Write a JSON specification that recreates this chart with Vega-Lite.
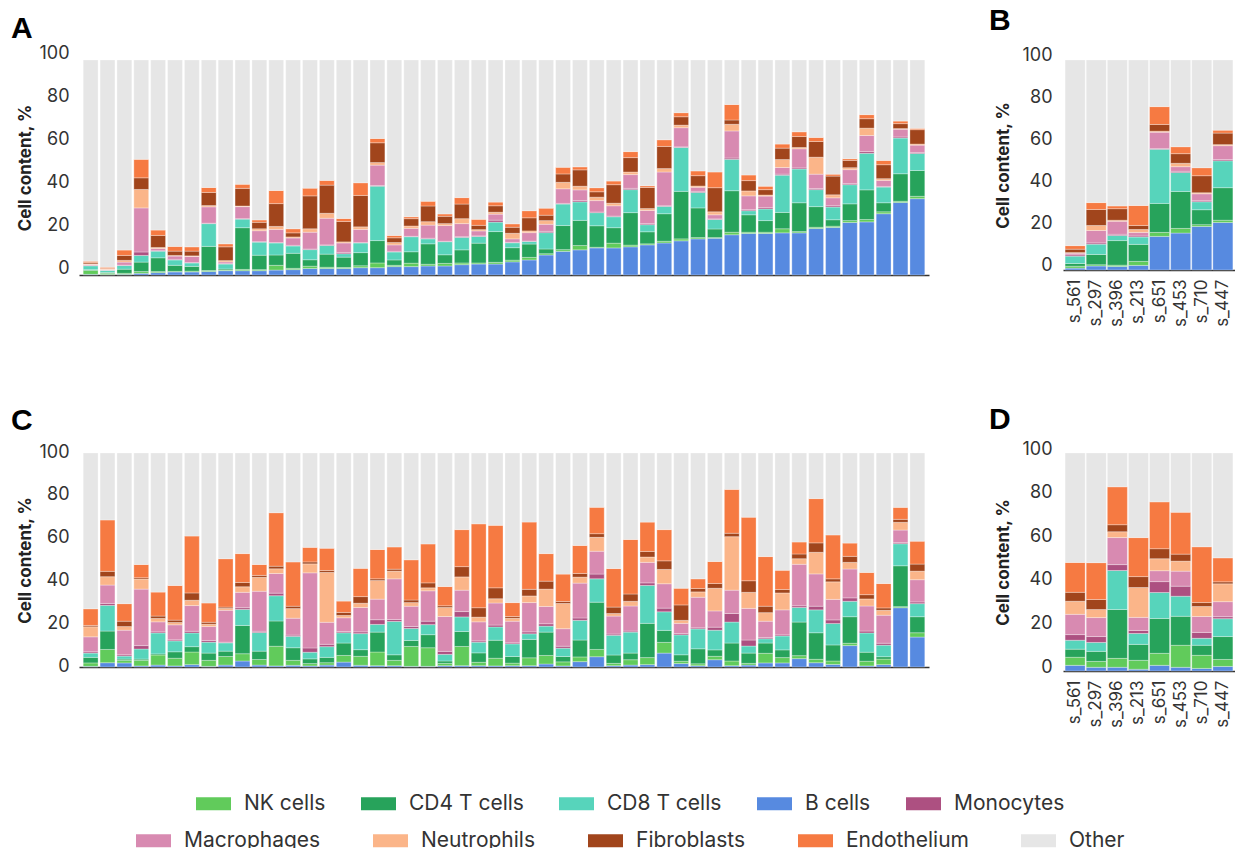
{
"$schema": "https://vega.github.io/schema/vega-lite/v6.json",
"padding": {"left": 10, "top": 6, "right": 0, "bottom": 0},
"background": "white",
"data": {"values": [
{"p":"A","s":"A01","B cells":0.3,"NK cells":1.8,"CD4 T cells":0.4,"CD8 T cells":1.8,"Monocytes":0.1,"Macrophages":0.5,"Neutrophils":0.3,"Fibroblasts":0.6,"Endothelium":0.6,"Other":93.6},
{"p":"A","s":"A02","B cells":0.2,"NK cells":0.6,"CD4 T cells":0.4,"CD8 T cells":1.0,"Monocytes":0.0,"Macrophages":0.3,"Neutrophils":0.3,"Fibroblasts":0.2,"Endothelium":0.6,"Other":96.4},
{"p":"A","s":"A03","B cells":0.3,"NK cells":0.5,"CD4 T cells":1.9,"CD8 T cells":1.7,"Monocytes":0.2,"Macrophages":1.4,"Neutrophils":0.8,"Fibroblasts":2.3,"Endothelium":2.5,"Other":88.4},
{"p":"A","s":"A04","B cells":0.8,"NK cells":0.8,"CD4 T cells":4.4,"CD8 T cells":3.1,"Monocytes":1.6,"Macrophages":20.5,"Neutrophils":8.6,"Fibroblasts":5.4,"Endothelium":8.6,"Other":46.2},
{"p":"A","s":"A05","B cells":1.1,"NK cells":0.5,"CD4 T cells":6.4,"CD8 T cells":3.1,"Monocytes":0.2,"Macrophages":1.0,"Neutrophils":0.5,"Fibroblasts":5.6,"Endothelium":2.5,"Other":79.1},
{"p":"A","s":"A06","B cells":1.4,"NK cells":0.3,"CD4 T cells":2.8,"CD8 T cells":2.5,"Monocytes":0.3,"Macrophages":1.5,"Neutrophils":0.3,"Fibroblasts":2.0,"Endothelium":2.2,"Other":86.7},
{"p":"A","s":"A07","B cells":1.4,"NK cells":0.4,"CD4 T cells":2.2,"CD8 T cells":1.6,"Monocytes":0.2,"Macrophages":2.8,"Neutrophils":0.3,"Fibroblasts":2.2,"Endothelium":2.0,"Other":86.9},
{"p":"A","s":"A08","B cells":1.6,"NK cells":0.5,"CD4 T cells":11.2,"CD8 T cells":10.6,"Monocytes":0.2,"Macrophages":7.6,"Neutrophils":0.6,"Fibroblasts":6.1,"Endothelium":2.3,"Other":59.3},
{"p":"A","s":"A09","B cells":2.0,"NK cells":0.3,"CD4 T cells":0.5,"CD8 T cells":2.3,"Monocytes":0.2,"Macrophages":0.8,"Neutrophils":0.6,"Fibroblasts":6.4,"Endothelium":1.4,"Other":85.5},
{"p":"A","s":"A10","B cells":2.0,"NK cells":0.6,"CD4 T cells":19.4,"CD8 T cells":4.0,"Monocytes":0.2,"Macrophages":5.6,"Neutrophils":0.3,"Fibroblasts":8.2,"Endothelium":1.9,"Other":57.8},
{"p":"A","s":"A11","B cells":2.0,"NK cells":0.5,"CD4 T cells":6.7,"CD8 T cells":6.1,"Monocytes":0.2,"Macrophages":5.1,"Neutrophils":0.9,"Fibroblasts":3.0,"Endothelium":1.1,"Other":74.4},
{"p":"A","s":"A12","B cells":2.3,"NK cells":2.2,"CD4 T cells":4.8,"CD8 T cells":5.6,"Monocytes":0.2,"Macrophages":6.1,"Neutrophils":1.4,"Fibroblasts":10.6,"Endothelium":6.1,"Other":60.7},
{"p":"A","s":"A13","B cells":2.5,"NK cells":0.6,"CD4 T cells":7.0,"CD8 T cells":3.4,"Monocytes":0.3,"Macrophages":3.4,"Neutrophils":0.5,"Fibroblasts":1.9,"Endothelium":1.9,"Other":78.5},
{"p":"A","s":"A14","B cells":3.0,"NK cells":1.1,"CD4 T cells":3.0,"CD8 T cells":4.7,"Monocytes":0.3,"Macrophages":7.8,"Neutrophils":1.6,"Fibroblasts":15.3,"Endothelium":3.6,"Other":59.6},
{"p":"A","s":"A15","B cells":3.0,"NK cells":0.6,"CD4 T cells":6.1,"CD8 T cells":4.0,"Monocytes":0.3,"Macrophages":12.4,"Neutrophils":2.3,"Fibroblasts":13.1,"Endothelium":2.2,"Other":56.0},
{"p":"A","s":"A16","B cells":3.0,"NK cells":0.5,"CD4 T cells":4.8,"CD8 T cells":1.6,"Monocytes":0.6,"Macrophages":4.4,"Neutrophils":0.5,"Fibroblasts":9.5,"Endothelium":1.4,"Other":73.7},
{"p":"A","s":"A17","B cells":3.4,"NK cells":0.9,"CD4 T cells":6.1,"CD8 T cells":4.5,"Monocytes":0.2,"Macrophages":6.1,"Neutrophils":1.2,"Fibroblasts":14.6,"Endothelium":5.9,"Other":57.1},
{"p":"A","s":"A18","B cells":3.4,"NK cells":2.2,"CD4 T cells":10.4,"CD8 T cells":25.3,"Monocytes":0.3,"Macrophages":9.5,"Neutrophils":1.2,"Fibroblasts":9.2,"Endothelium":2.0,"Other":36.5},
{"p":"A","s":"A19","B cells":3.9,"NK cells":0.6,"CD4 T cells":2.5,"CD8 T cells":3.7,"Monocytes":0.3,"Macrophages":3.0,"Neutrophils":1.1,"Fibroblasts":2.2,"Endothelium":1.1,"Other":81.6},
{"p":"A","s":"A20","B cells":3.9,"NK cells":1.6,"CD4 T cells":5.3,"CD8 T cells":7.0,"Monocytes":0.2,"Macrophages":3.7,"Neutrophils":1.1,"Fibroblasts":3.4,"Endothelium":0.9,"Other":72.9},
{"p":"A","s":"A21","B cells":4.2,"NK cells":0.8,"CD4 T cells":9.5,"CD8 T cells":2.3,"Monocytes":0.3,"Macrophages":6.1,"Neutrophils":1.6,"Fibroblasts":7.3,"Endothelium":2.2,"Other":65.7},
{"p":"A","s":"A22","B cells":4.2,"NK cells":1.2,"CD4 T cells":4.0,"CD8 T cells":6.1,"Monocytes":0.2,"Macrophages":7.3,"Neutrophils":0.9,"Fibroblasts":3.4,"Endothelium":1.1,"Other":71.6},
{"p":"A","s":"A23","B cells":4.8,"NK cells":0.8,"CD4 T cells":6.1,"CD8 T cells":5.8,"Monocytes":0.3,"Macrophages":6.1,"Neutrophils":2.3,"Fibroblasts":6.8,"Endothelium":3.0,"Other":64.0},
{"p":"A","s":"A24","B cells":5.1,"NK cells":0.5,"CD4 T cells":9.2,"CD8 T cells":3.1,"Monocytes":0.3,"Macrophages":2.3,"Neutrophils":0.6,"Fibroblasts":2.0,"Endothelium":2.8,"Other":74.1},
{"p":"A","s":"A25","B cells":5.1,"NK cells":0.8,"CD4 T cells":14.3,"CD8 T cells":4.4,"Monocytes":0.9,"Macrophages":2.8,"Neutrophils":0.9,"Fibroblasts":3.0,"Endothelium":1.7,"Other":66.1},
{"p":"A","s":"A26","B cells":6.1,"NK cells":0.8,"CD4 T cells":5.8,"CD8 T cells":2.3,"Monocytes":0.2,"Macrophages":1.6,"Neutrophils":2.6,"Fibroblasts":2.8,"Endothelium":1.6,"Other":76.2},
{"p":"A","s":"A27","B cells":7.0,"NK cells":1.2,"CD4 T cells":6.2,"CD8 T cells":1.2,"Monocytes":0.2,"Macrophages":3.9,"Neutrophils":0.8,"Fibroblasts":6.1,"Endothelium":3.3,"Other":70.1},
{"p":"A","s":"A28","B cells":9.3,"NK cells":0.6,"CD4 T cells":2.2,"CD8 T cells":7.6,"Monocytes":0.6,"Macrophages":3.3,"Neutrophils":1.7,"Fibroblasts":2.5,"Endothelium":3.3,"Other":68.9},
{"p":"A","s":"A29","B cells":11.0,"NK cells":0.8,"CD4 T cells":11.2,"CD8 T cells":10.0,"Monocytes":0.3,"Macrophages":6.8,"Neutrophils":3.0,"Fibroblasts":3.9,"Endothelium":3.1,"Other":49.9},
{"p":"A","s":"A30","B cells":11.7,"NK cells":2.0,"CD4 T cells":11.7,"CD8 T cells":8.6,"Monocytes":0.6,"Macrophages":5.0,"Neutrophils":1.7,"Fibroblasts":7.6,"Endothelium":1.4,"Other":49.7},
{"p":"A","s":"A31","B cells":12.6,"NK cells":0.3,"CD4 T cells":10.0,"CD8 T cells":6.1,"Monocytes":0.3,"Macrophages":5.3,"Neutrophils":1.6,"Fibroblasts":2.5,"Endothelium":1.9,"Other":59.4},
{"p":"A","s":"A32","B cells":12.6,"NK cells":2.2,"CD4 T cells":7.2,"CD8 T cells":5.1,"Monocytes":0.3,"Macrophages":4.8,"Neutrophils":1.2,"Fibroblasts":8.6,"Endothelium":1.7,"Other":56.3},
{"p":"A","s":"A33","B cells":13.1,"NK cells":0.8,"CD4 T cells":15.1,"CD8 T cells":10.7,"Monocytes":0.6,"Macrophages":6.4,"Neutrophils":1.2,"Fibroblasts":6.7,"Endothelium":2.8,"Other":42.6},
{"p":"A","s":"A34","B cells":14.0,"NK cells":0.5,"CD4 T cells":5.6,"CD8 T cells":3.3,"Monocytes":0.5,"Macrophages":6.1,"Neutrophils":0.9,"Fibroblasts":9.8,"Endothelium":0.8,"Other":58.5},
{"p":"A","s":"A35","B cells":14.9,"NK cells":0.8,"CD4 T cells":12.8,"CD8 T cells":3.4,"Monocytes":0.3,"Macrophages":15.7,"Neutrophils":1.6,"Fibroblasts":10.3,"Endothelium":3.1,"Other":37.1},
{"p":"A","s":"A36","B cells":15.9,"NK cells":0.9,"CD4 T cells":22.1,"CD8 T cells":20.4,"Monocytes":0.3,"Macrophages":8.9,"Neutrophils":1.2,"Fibroblasts":3.9,"Endothelium":1.9,"Other":24.5},
{"p":"A","s":"A37","B cells":16.8,"NK cells":0.6,"CD4 T cells":13.8,"CD8 T cells":7.2,"Monocytes":0.5,"Macrophages":1.9,"Neutrophils":0.6,"Fibroblasts":4.8,"Endothelium":2.2,"Other":51.6},
{"p":"A","s":"A38","B cells":17.1,"NK cells":0.3,"CD4 T cells":4.0,"CD8 T cells":4.4,"Monocytes":0.3,"Macrophages":1.9,"Neutrophils":1.4,"Fibroblasts":11.2,"Endothelium":7.3,"Other":52.1},
{"p":"A","s":"A39","B cells":18.7,"NK cells":1.2,"CD4 T cells":19.3,"CD8 T cells":14.6,"Monocytes":0.6,"Macrophages":12.6,"Neutrophils":3.1,"Fibroblasts":2.0,"Endothelium":7.2,"Other":20.7},
{"p":"A","s":"A40","B cells":19.3,"NK cells":0.6,"CD4 T cells":8.1,"CD8 T cells":1.9,"Monocytes":0.5,"Macrophages":6.4,"Neutrophils":2.3,"Fibroblasts":4.8,"Endothelium":2.6,"Other":53.5},
{"p":"A","s":"A41","B cells":19.3,"NK cells":0.6,"CD4 T cells":5.4,"CD8 T cells":5.4,"Monocytes":0.6,"Macrophages":5.4,"Neutrophils":0.5,"Fibroblasts":2.5,"Endothelium":1.6,"Other":58.7},
{"p":"A","s":"A42","B cells":19.6,"NK cells":1.9,"CD4 T cells":7.6,"CD8 T cells":17.3,"Monocytes":0.5,"Macrophages":3.1,"Neutrophils":3.7,"Fibroblasts":5.3,"Endothelium":1.9,"Other":39.1},
{"p":"A","s":"A43","B cells":19.6,"NK cells":0.6,"CD4 T cells":13.4,"CD8 T cells":15.7,"Monocytes":0.5,"Macrophages":8.9,"Neutrophils":0.6,"Fibroblasts":5.1,"Endothelium":2.2,"Other":33.4},
{"p":"A","s":"A44","B cells":21.6,"NK cells":0.6,"CD4 T cells":9.6,"CD8 T cells":7.9,"Monocytes":0.5,"Macrophages":6.7,"Neutrophils":7.9,"Fibroblasts":7.3,"Endothelium":1.9,"Other":36.0},
{"p":"A","s":"A45","B cells":22.1,"NK cells":0.6,"CD4 T cells":3.0,"CD8 T cells":5.9,"Monocytes":0.6,"Macrophages":3.7,"Neutrophils":1.4,"Fibroblasts":8.7,"Endothelium":0.9,"Other":53.1},
{"p":"A","s":"A46","B cells":24.4,"NK cells":0.9,"CD4 T cells":7.8,"CD8 T cells":8.9,"Monocytes":0.5,"Macrophages":6.5,"Neutrophils":0.9,"Fibroblasts":3.4,"Endothelium":0.8,"Other":45.9},
{"p":"A","s":"A47","B cells":24.7,"NK cells":1.1,"CD4 T cells":13.8,"CD8 T cells":17.0,"Monocytes":0.8,"Macrophages":7.5,"Neutrophils":3.4,"Fibroblasts":4.4,"Endothelium":1.9,"Other":25.4},
{"p":"A","s":"A48","B cells":28.5,"NK cells":0.9,"CD4 T cells":4.2,"CD8 T cells":7.3,"Monocytes":0.3,"Macrophages":2.8,"Neutrophils":0.8,"Fibroblasts":6.5,"Endothelium":2.0,"Other":46.7},
{"p":"A","s":"A49","B cells":33.7,"NK cells":0.6,"CD4 T cells":12.8,"CD8 T cells":16.6,"Monocytes":0.5,"Macrophages":3.6,"Neutrophils":0.3,"Fibroblasts":2.3,"Endothelium":1.2,"Other":28.4},
{"p":"A","s":"A50","B cells":35.5,"NK cells":1.1,"CD4 T cells":12.0,"CD8 T cells":7.9,"Monocytes":0.5,"Macrophages":3.4,"Neutrophils":0.5,"Fibroblasts":6.7,"Endothelium":0.6,"Other":31.8},
{"p":"B","s":"s_561","B cells":0.9,"NK cells":0.9,"CD4 T cells":1.3,"CD8 T cells":3.5,"Monocytes":0.6,"Macrophages":0.8,"Neutrophils":0.3,"Fibroblasts":1.6,"Endothelium":1.7,"Other":88.4},
{"p":"B","s":"s_297","B cells":1.9,"NK cells":0.6,"CD4 T cells":4.9,"CD8 T cells":4.9,"Monocytes":0.6,"Macrophages":5.9,"Neutrophils":2.4,"Fibroblasts":7.6,"Endothelium":3.3,"Other":67.9},
{"p":"B","s":"s_396","B cells":1.7,"NK cells":0.6,"CD4 T cells":11.7,"CD8 T cells":2.4,"Monocytes":0.6,"Macrophages":6.2,"Neutrophils":0.5,"Fibroblasts":5.5,"Endothelium":1.3,"Other":69.5},
{"p":"B","s":"s_213","B cells":2.2,"NK cells":1.9,"CD4 T cells":8.1,"CD8 T cells":3.5,"Monocytes":0.5,"Macrophages":1.7,"Neutrophils":1.4,"Fibroblasts":1.9,"Endothelium":9.5,"Other":69.3},
{"p":"B","s":"s_651","B cells":16.0,"NK cells":1.9,"CD4 T cells":13.8,"CD8 T cells":25.8,"Monocytes":0.3,"Macrophages":7.8,"Neutrophils":0.5,"Fibroblasts":3.2,"Endothelium":8.5,"Other":22.2},
{"p":"B","s":"s_453","B cells":17.6,"NK cells":2.2,"CD4 T cells":17.6,"CD8 T cells":9.0,"Monocytes":0.6,"Macrophages":2.2,"Neutrophils":1.6,"Fibroblasts":4.6,"Endothelium":3.3,"Other":41.3},
{"p":"B","s":"s_710","B cells":20.7,"NK cells":0.9,"CD4 T cells":7.1,"CD8 T cells":3.8,"Monocytes":0.5,"Macrophages":3.3,"Neutrophils":0.5,"Fibroblasts":8.1,"Endothelium":3.8,"Other":51.3},
{"p":"B","s":"s_447","B cells":22.6,"NK cells":1.1,"CD4 T cells":15.5,"CD8 T cells":12.8,"Monocytes":0.6,"Macrophages":6.6,"Neutrophils":0.5,"Fibroblasts":5.5,"Endothelium":1.4,"Other":33.4},
{"p":"C","s":"C01","B cells":0.3,"NK cells":1.6,"CD4 T cells":2.6,"CD8 T cells":2.0,"Monocytes":0.6,"Macrophages":7.0,"Neutrophils":4.7,"Fibroblasts":0.6,"Endothelium":7.8,"Other":72.8},
{"p":"C","s":"C02","B cells":2.0,"NK cells":6.2,"CD4 T cells":8.6,"CD8 T cells":12.0,"Monocytes":0.9,"Macrophages":8.6,"Neutrophils":3.9,"Fibroblasts":2.5,"Endothelium":24.0,"Other":31.3},
{"p":"C","s":"C03","B cells":1.9,"NK cells":1.2,"CD4 T cells":0.6,"CD8 T cells":1.4,"Monocytes":0.6,"Macrophages":11.5,"Neutrophils":1.7,"Fibroblasts":2.5,"Endothelium":8.2,"Other":70.4},
{"p":"C","s":"C04","B cells":0.5,"NK cells":2.6,"CD4 T cells":0.6,"CD8 T cells":4.7,"Monocytes":1.6,"Macrophages":26.4,"Neutrophils":4.7,"Fibroblasts":0.6,"Endothelium":6.2,"Other":52.1},
{"p":"C","s":"C05","B cells":0.9,"NK cells":4.7,"CD4 T cells":0.5,"CD8 T cells":9.8,"Monocytes":0.5,"Macrophages":4.7,"Neutrophils":1.6,"Fibroblasts":1.1,"Endothelium":11.2,"Other":65.0},
{"p":"C","s":"C06","B cells":0.5,"NK cells":3.6,"CD4 T cells":3.0,"CD8 T cells":5.1,"Monocytes":0.5,"Macrophages":7.0,"Neutrophils":1.1,"Fibroblasts":1.1,"Endothelium":16.2,"Other":61.9},
{"p":"C","s":"C07","B cells":1.1,"NK cells":5.9,"CD4 T cells":2.5,"CD8 T cells":6.4,"Monocytes":0.8,"Macrophages":12.0,"Neutrophils":2.5,"Fibroblasts":3.4,"Endothelium":26.6,"Other":38.8},
{"p":"C","s":"C08","B cells":0.3,"NK cells":2.8,"CD4 T cells":3.4,"CD8 T cells":5.1,"Monocytes":0.8,"Macrophages":6.5,"Neutrophils":1.1,"Fibroblasts":0.9,"Endothelium":9.0,"Other":70.1},
{"p":"C","s":"C09","B cells":0.9,"NK cells":4.0,"CD4 T cells":2.5,"CD8 T cells":3.9,"Monocytes":0.3,"Macrophages":14.9,"Neutrophils":0.9,"Fibroblasts":0.6,"Endothelium":22.6,"Other":49.4},
{"p":"C","s":"C10","B cells":2.8,"NK cells":3.4,"CD4 T cells":13.2,"CD8 T cells":7.5,"Monocytes":0.8,"Macrophages":7.2,"Neutrophils":2.6,"Fibroblasts":2.0,"Endothelium":13.5,"Other":47.0},
{"p":"C","s":"C11","B cells":0.9,"NK cells":2.6,"CD4 T cells":3.9,"CD8 T cells":8.7,"Monocytes":0.6,"Macrophages":18.7,"Neutrophils":6.5,"Fibroblasts":0.9,"Endothelium":5.1,"Other":52.1},
{"p":"C","s":"C12","B cells":0.5,"NK cells":9.2,"CD4 T cells":11.8,"CD8 T cells":11.8,"Monocytes":1.2,"Macrophages":9.2,"Neutrophils":2.2,"Fibroblasts":1.2,"Endothelium":25.0,"Other":27.9},
{"p":"C","s":"C13","B cells":0.8,"NK cells":2.3,"CD4 T cells":5.9,"CD8 T cells":5.3,"Monocytes":0.6,"Macrophages":7.9,"Neutrophils":4.5,"Fibroblasts":1.1,"Endothelium":20.7,"Other":50.9},
{"p":"C","s":"C14","B cells":0.5,"NK cells":1.1,"CD4 T cells":2.2,"CD8 T cells":3.1,"Monocytes":2.0,"Macrophages":35.1,"Neutrophils":4.2,"Fibroblasts":0.9,"Endothelium":6.8,"Other":44.1},
{"p":"C","s":"C15","B cells":0.9,"NK cells":1.1,"CD4 T cells":2.5,"CD8 T cells":5.0,"Monocytes":1.1,"Macrophages":10.3,"Neutrophils":23.3,"Fibroblasts":0.9,"Endothelium":10.4,"Other":44.5},
{"p":"C","s":"C16","B cells":2.3,"NK cells":3.1,"CD4 T cells":5.8,"CD8 T cells":4.8,"Monocytes":0.6,"Macrophages":6.4,"Neutrophils":1.1,"Fibroblasts":1.4,"Endothelium":5.3,"Other":69.2},
{"p":"C","s":"C17","B cells":0.8,"NK cells":4.2,"CD4 T cells":3.1,"CD8 T cells":7.5,"Monocytes":0.8,"Macrophages":11.4,"Neutrophils":2.0,"Fibroblasts":3.1,"Endothelium":13.2,"Other":53.9},
{"p":"C","s":"C18","B cells":0.6,"NK cells":6.4,"CD4 T cells":9.3,"CD8 T cells":3.6,"Monocytes":2.2,"Macrophages":9.6,"Neutrophils":8.7,"Fibroblasts":0.8,"Endothelium":13.7,"Other":45.1},
{"p":"C","s":"C19","B cells":0.6,"NK cells":2.5,"CD4 T cells":2.6,"CD8 T cells":15.6,"Monocytes":0.9,"Macrophages":19.0,"Neutrophils":3.6,"Fibroblasts":0.9,"Endothelium":10.4,"Other":43.9},
{"p":"C","s":"C20","B cells":0.3,"NK cells":9.3,"CD4 T cells":2.8,"CD8 T cells":5.6,"Monocytes":0.9,"Macrophages":9.5,"Neutrophils":1.7,"Fibroblasts":1.2,"Endothelium":18.8,"Other":49.9},
{"p":"C","s":"C21","B cells":0.3,"NK cells":8.7,"CD4 T cells":6.1,"CD8 T cells":4.7,"Monocytes":1.6,"Macrophages":14.2,"Neutrophils":1.4,"Fibroblasts":2.3,"Endothelium":18.2,"Other":42.5},
{"p":"C","s":"C22","B cells":0.6,"NK cells":1.1,"CD4 T cells":1.1,"CD8 T cells":3.1,"Monocytes":1.4,"Macrophages":16.3,"Neutrophils":4.2,"Fibroblasts":0.8,"Endothelium":9.0,"Other":62.4},
{"p":"C","s":"C23","B cells":0.6,"NK cells":9.0,"CD4 T cells":7.0,"CD8 T cells":6.8,"Monocytes":2.5,"Macrophages":10.0,"Neutrophils":6.2,"Fibroblasts":4.8,"Endothelium":17.3,"Other":35.8},
{"p":"C","s":"C24","B cells":0.6,"NK cells":1.6,"CD4 T cells":4.4,"CD8 T cells":5.0,"Monocytes":0.6,"Macrophages":8.9,"Neutrophils":2.2,"Fibroblasts":4.4,"Endothelium":39.2,"Other":33.1},
{"p":"C","s":"C25","B cells":0.5,"NK cells":3.6,"CD4 T cells":8.4,"CD8 T cells":6.2,"Monocytes":0.9,"Macrophages":10.3,"Neutrophils":2.0,"Fibroblasts":5.1,"Endothelium":29.2,"Other":33.8},
{"p":"C","s":"C26","B cells":0.6,"NK cells":1.2,"CD4 T cells":3.1,"CD8 T cells":5.9,"Monocytes":0.5,"Macrophages":10.1,"Neutrophils":1.4,"Fibroblasts":0.8,"Endothelium":6.5,"Other":69.9},
{"p":"C","s":"C27","B cells":0.6,"NK cells":3.7,"CD4 T cells":8.6,"CD8 T cells":2.6,"Monocytes":0.9,"Macrophages":13.7,"Neutrophils":3.1,"Fibroblasts":3.1,"Endothelium":31.4,"Other":32.3},
{"p":"C","s":"C28","B cells":1.4,"NK cells":4.0,"CD4 T cells":10.9,"CD8 T cells":2.8,"Monocytes":1.1,"Macrophages":8.1,"Neutrophils":8.1,"Fibroblasts":3.7,"Endothelium":12.9,"Other":47.0},
{"p":"C","s":"C29","B cells":0.5,"NK cells":1.9,"CD4 T cells":2.5,"CD8 T cells":3.9,"Monocytes":0.9,"Macrophages":8.2,"Neutrophils":11.8,"Fibroblasts":0.9,"Endothelium":12.8,"Other":56.6},
{"p":"C","s":"C30","B cells":2.5,"NK cells":2.2,"CD4 T cells":7.9,"CD8 T cells":9.2,"Monocytes":1.1,"Macrophages":16.3,"Neutrophils":2.8,"Fibroblasts":1.7,"Endothelium":13.1,"Other":43.2},
{"p":"C","s":"C31","B cells":4.8,"NK cells":3.4,"CD4 T cells":22.1,"CD8 T cells":10.9,"Monocytes":2.2,"Macrophages":10.7,"Neutrophils":6.5,"Fibroblasts":1.7,"Endothelium":12.3,"Other":25.4},
{"p":"C","s":"C32","B cells":0.6,"NK cells":1.1,"CD4 T cells":3.9,"CD8 T cells":9.2,"Monocytes":0.6,"Macrophages":8.4,"Neutrophils":1.2,"Fibroblasts":3.0,"Endothelium":18.0,"Other":54.0},
{"p":"C","s":"C33","B cells":0.9,"NK cells":2.5,"CD4 T cells":3.1,"CD8 T cells":9.8,"Monocytes":0.5,"Macrophages":11.7,"Neutrophils":2.2,"Fibroblasts":3.4,"Endothelium":25.5,"Other":40.4},
{"p":"C","s":"C34","B cells":1.1,"NK cells":3.3,"CD4 T cells":16.0,"CD8 T cells":17.7,"Monocytes":1.2,"Macrophages":9.6,"Neutrophils":2.5,"Fibroblasts":2.6,"Endothelium":13.7,"Other":32.3},
{"p":"C","s":"C35","B cells":6.5,"NK cells":5.0,"CD4 T cells":5.6,"CD8 T cells":8.7,"Monocytes":1.7,"Macrophages":11.4,"Neutrophils":6.7,"Fibroblasts":4.0,"Endothelium":14.6,"Other":35.8},
{"p":"C","s":"C36","B cells":1.6,"NK cells":1.1,"CD4 T cells":3.0,"CD8 T cells":9.3,"Monocytes":0.6,"Macrophages":4.8,"Neutrophils":1.4,"Fibroblasts":7.2,"Endothelium":7.8,"Other":63.2},
{"p":"C","s":"C37","B cells":0.6,"NK cells":0.9,"CD4 T cells":7.0,"CD8 T cells":9.3,"Monocytes":0.5,"Macrophages":14.3,"Neutrophils":2.5,"Fibroblasts":1.6,"Endothelium":4.5,"Other":58.8},
{"p":"C","s":"C38","B cells":3.4,"NK cells":1.6,"CD4 T cells":3.0,"CD8 T cells":9.2,"Monocytes":1.4,"Macrophages":7.6,"Neutrophils":10.6,"Fibroblasts":2.2,"Endothelium":10.3,"Other":50.7},
{"p":"C","s":"C39","B cells":0.6,"NK cells":2.2,"CD4 T cells":8.4,"CD8 T cells":9.8,"Monocytes":4.0,"Macrophages":10.9,"Neutrophils":25.0,"Fibroblasts":1.6,"Endothelium":20.5,"Other":17.0},
{"p":"C","s":"C40","B cells":0.9,"NK cells":0.8,"CD4 T cells":4.8,"CD8 T cells":3.3,"Monocytes":2.8,"Macrophages":14.8,"Neutrophils":7.5,"Fibroblasts":5.4,"Endothelium":29.7,"Other":30.0},
{"p":"C","s":"C41","B cells":1.9,"NK cells":4.5,"CD4 T cells":4.8,"CD8 T cells":2.0,"Monocytes":0.6,"Macrophages":7.6,"Neutrophils":4.0,"Fibroblasts":3.0,"Endothelium":23.2,"Other":48.4},
{"p":"C","s":"C42","B cells":1.9,"NK cells":2.5,"CD4 T cells":3.6,"CD8 T cells":6.5,"Monocytes":0.5,"Macrophages":11.7,"Neutrophils":7.9,"Fibroblasts":1.6,"Endothelium":9.0,"Other":54.8},
{"p":"C","s":"C43","B cells":3.9,"NK cells":1.4,"CD4 T cells":15.7,"CD8 T cells":6.8,"Monocytes":0.8,"Macrophages":19.4,"Neutrophils":2.6,"Fibroblasts":2.2,"Endothelium":5.6,"Other":41.6},
{"p":"C","s":"C44","B cells":2.0,"NK cells":1.6,"CD4 T cells":12.4,"CD8 T cells":10.7,"Monocytes":1.7,"Macrophages":15.1,"Neutrophils":10.1,"Fibroblasts":4.4,"Endothelium":20.7,"Other":21.3},
{"p":"C","s":"C45","B cells":1.2,"NK cells":1.6,"CD4 T cells":7.5,"CD8 T cells":10.0,"Monocytes":1.7,"Macrophages":9.6,"Neutrophils":8.2,"Fibroblasts":1.4,"Endothelium":20.5,"Other":38.3},
{"p":"C","s":"C46","B cells":10.0,"NK cells":1.1,"CD4 T cells":12.4,"CD8 T cells":7.2,"Monocytes":1.6,"Macrophages":13.5,"Neutrophils":3.1,"Fibroblasts":2.8,"Endothelium":6.2,"Other":42.1},
{"p":"C","s":"C47","B cells":0.5,"NK cells":2.2,"CD4 T cells":4.2,"CD8 T cells":9.0,"Monocytes":0.9,"Macrophages":11.7,"Neutrophils":3.3,"Fibroblasts":2.0,"Endothelium":10.4,"Other":55.8},
{"p":"C","s":"C48","B cells":1.1,"NK cells":2.6,"CD4 T cells":1.1,"CD8 T cells":5.4,"Monocytes":0.9,"Macrophages":13.1,"Neutrophils":2.3,"Fibroblasts":1.1,"Endothelium":11.4,"Other":61.0},
{"p":"C","s":"C49","B cells":27.7,"NK cells":0.5,"CD4 T cells":19.1,"CD8 T cells":10.3,"Monocytes":0.5,"Macrophages":5.9,"Neutrophils":3.6,"Fibroblasts":1.4,"Endothelium":5.6,"Other":25.4},
{"p":"C","s":"C50","B cells":14.0,"NK cells":2.0,"CD4 T cells":7.5,"CD8 T cells":6.1,"Monocytes":0.8,"Macrophages":10.4,"Neutrophils":4.0,"Fibroblasts":3.3,"Endothelium":10.7,"Other":41.2},
{"p":"D","s":"s_561","B cells":2.6,"NK cells":3.7,"CD4 T cells":3.7,"CD8 T cells":4.1,"Monocytes":2.6,"Macrophages":9.3,"Neutrophils":6.0,"Fibroblasts":4.1,"Endothelium":13.7,"Other":50.2},
{"p":"D","s":"s_297","B cells":1.7,"NK cells":2.7,"CD4 T cells":4.6,"CD8 T cells":4.1,"Monocytes":2.7,"Macrophages":8.7,"Neutrophils":3.7,"Fibroblasts":4.6,"Endothelium":16.9,"Other":50.3},
{"p":"D","s":"s_396","B cells":1.7,"NK cells":4.1,"CD4 T cells":22.4,"CD8 T cells":17.9,"Monocytes":2.7,"Macrophages":12.4,"Neutrophils":2.7,"Fibroblasts":3.2,"Endothelium":17.4,"Other":15.5},
{"p":"D","s":"s_213","B cells":0.8,"NK cells":4.1,"CD4 T cells":7.3,"CD8 T cells":5.0,"Monocytes":1.4,"Macrophages":6.0,"Neutrophils":13.7,"Fibroblasts":5.0,"Endothelium":17.9,"Other":38.8},
{"p":"D","s":"s_651","B cells":2.6,"NK cells":5.5,"CD4 T cells":16.0,"CD8 T cells":11.9,"Monocytes":5.0,"Macrophages":5.0,"Neutrophils":5.5,"Fibroblasts":4.6,"Endothelium":21.5,"Other":22.4},
{"p":"D","s":"s_453","B cells":1.7,"NK cells":10.1,"CD4 T cells":13.3,"CD8 T cells":9.2,"Monocytes":4.6,"Macrophages":6.9,"Neutrophils":4.6,"Fibroblasts":3.2,"Endothelium":19.2,"Other":27.2},
{"p":"D","s":"s_710","B cells":1.2,"NK cells":6.0,"CD4 T cells":4.6,"CD8 T cells":3.2,"Monocytes":2.7,"Macrophages":7.3,"Neutrophils":4.6,"Fibroblasts":1.8,"Endothelium":25.6,"Other":43.0},
{"p":"D","s":"s_447","B cells":2.1,"NK cells":3.2,"CD4 T cells":10.5,"CD8 T cells":8.2,"Monocytes":0.9,"Macrophages":6.9,"Neutrophils":8.2,"Fibroblasts":0.9,"Endothelium":11.0,"Other":48.1}
]},
"transform": [
{"fold": ["B cells","NK cells","CD4 T cells","CD8 T cells","Monocytes","Macrophages","Neutrophils","Fibroblasts","Endothelium","Other"], "as": ["type","value"]},
{"calculate": "indexof(['B cells','NK cells','CD4 T cells','CD8 T cells','Monocytes','Macrophages','Neutrophils','Fibroblasts','Endothelium','Other'], datum.type)", "as": "ord"},
{"stack": "value", "groupby": ["p","s"], "sort": [{"field": "ord", "order": "ascending"}], "as": ["y0","y1"]}
],
"spacing": 78,
"vconcat": [
{"hconcat": [
{"title": {"text": "A", "offset": 0}, "width": 850, "height": 215,
 "transform": [{"filter": "datum.p === 'A'"}],
 "encoding": {
  "x": {"field": "s", "type": "nominal", "sort": null, "title": null, "scale": {"paddingInner": 0.12, "paddingOuter": 0.25}, "axis": {"labels": false}},
  "y": {"field": "y0", "type": "quantitative", "scale": {"domain": [0, 100]}, "title": "Cell content, %", "axis": {"values": [0,20,40,60,80,100], "labelOffset": -7, "labelPadding": 10, "titlePadding": 4}},
  "y2": {"field": "y1"}},
 "layer": [
  {"transform": [{"filter": {"field": "type", "oneOf": ["NK cells","CD4 T cells","CD8 T cells","B cells","Monocytes"]}}],
   "mark": {"type": "bar", "stroke": "#ffffff", "strokeWidth": 0.6, "strokeOpacity": 0.5},
   "encoding": {"color": {"field": "type", "type": "nominal", "title": " ", "scale": {"domain": ["NK cells","CD4 T cells","CD8 T cells","B cells","Monocytes"], "range": ["#61cb5b","#27a35b","#57d4bb","#578ae0","#ad5081"]},
     "legend": {"orient": "bottom", "direction": "horizontal", "columnPadding": 35, "symbolType": "M-1,-0.37H1V0.37H-1Z", "symbolSize": 1225, "symbolStrokeWidth": 0, "labelFontSize": 21, "labelOffset": 13, "offset": 58, "titleOrient": "left", "titlePadding": 16, "titleFontSize": 10}}}},
  {"transform": [{"filter": {"field": "type", "oneOf": ["Macrophages","Neutrophils","Fibroblasts","Endothelium","Other"]}}],
   "mark": {"type": "bar", "stroke": "#ffffff", "strokeWidth": 0.6, "strokeOpacity": 0.5},
   "encoding": {"fill": {"field": "type", "type": "nominal", "title": " ", "scale": {"domain": ["Macrophages","Neutrophils","Fibroblasts","Endothelium","Other"], "range": ["#d88ab1","#fbb589","#a1451c","#f67a42","#e6e6e6"]},
     "legend": {"orient": "bottom", "direction": "horizontal", "columnPadding": 52, "symbolType": "M-1,-0.37H1V0.37H-1Z", "symbolSize": 1225, "symbolStrokeWidth": 0, "labelFontSize": 21, "labelOffset": 13, "offset": 58, "titleOrient": "left", "titlePadding": 16, "titleFontSize": 10}}}}
 ]},
{"title": {"text": "B", "offset": 10}, "width": 172, "height": 210,
 "transform": [{"filter": "datum.p === 'B'"}],
 "encoding": {
  "x": {"field": "s", "type": "nominal", "sort": null, "title": null, "scale": {"paddingInner": 0.05, "paddingOuter": 0.1}, "axis": {"labelAngle": -90, "labelFontSize": 17, "labelPadding": 9}},
  "y": {"field": "y0", "type": "quantitative", "scale": {"domain": [0, 100]}, "title": "Cell content, %", "axis": {"values": [0,20,40,60,80,100], "labelOffset": -5, "labelPadding": 11, "titlePadding": 9}},
  "y2": {"field": "y1"}},
 "layer": [
  {"transform": [{"filter": {"field": "type", "oneOf": ["NK cells","CD4 T cells","CD8 T cells","B cells","Monocytes"]}}],
   "mark": {"type": "bar", "stroke": "#ffffff", "strokeWidth": 0.6, "strokeOpacity": 0.5},
   "encoding": {"color": {"field": "type", "type": "nominal", "title": " ", "scale": {"domain": ["NK cells","CD4 T cells","CD8 T cells","B cells","Monocytes"], "range": ["#61cb5b","#27a35b","#57d4bb","#578ae0","#ad5081"]}}}},
  {"transform": [{"filter": {"field": "type", "oneOf": ["Macrophages","Neutrophils","Fibroblasts","Endothelium","Other"]}}],
   "mark": {"type": "bar", "stroke": "#ffffff", "strokeWidth": 0.6, "strokeOpacity": 0.5},
   "encoding": {"fill": {"field": "type", "type": "nominal", "title": " ", "scale": {"domain": ["Macrophages","Neutrophils","Fibroblasts","Endothelium","Other"], "range": ["#d88ab1","#fbb589","#a1451c","#f67a42","#e6e6e6"]}}}}
 ]}
], "spacing": 59},
{"hconcat": [
{"title": {"text": "C", "offset": 7}, "width": 850, "height": 214,
 "transform": [{"filter": "datum.p === 'C'"}],
 "encoding": {
  "x": {"field": "s", "type": "nominal", "sort": null, "title": null, "scale": {"paddingInner": 0.12, "paddingOuter": 0.25}, "axis": {"labels": false}},
  "y": {"field": "y0", "type": "quantitative", "scale": {"domain": [0, 100]}, "title": "Cell content, %", "axis": {"values": [0,20,40,60,80,100], "labelOffset": -1, "labelPadding": 10, "titlePadding": 4}},
  "y2": {"field": "y1"}},
 "layer": [
  {"transform": [{"filter": {"field": "type", "oneOf": ["NK cells","CD4 T cells","CD8 T cells","B cells","Monocytes"]}}],
   "mark": {"type": "bar", "stroke": "#ffffff", "strokeWidth": 0.6, "strokeOpacity": 0.5},
   "encoding": {"color": {"field": "type", "type": "nominal", "title": " ", "scale": {"domain": ["NK cells","CD4 T cells","CD8 T cells","B cells","Monocytes"], "range": ["#61cb5b","#27a35b","#57d4bb","#578ae0","#ad5081"]}}}},
  {"transform": [{"filter": {"field": "type", "oneOf": ["Macrophages","Neutrophils","Fibroblasts","Endothelium","Other"]}}],
   "mark": {"type": "bar", "stroke": "#ffffff", "strokeWidth": 0.6, "strokeOpacity": 0.5},
   "encoding": {"fill": {"field": "type", "type": "nominal", "title": " ", "scale": {"domain": ["Macrophages","Neutrophils","Fibroblasts","Endothelium","Other"], "range": ["#d88ab1","#fbb589","#a1451c","#f67a42","#e6e6e6"]}}}}
 ]},
{"title": {"text": "D", "offset": 5}, "width": 172, "height": 218,
 "transform": [{"filter": "datum.p === 'D'"}],
 "encoding": {
  "x": {"field": "s", "type": "nominal", "sort": null, "title": null, "scale": {"paddingInner": 0.05, "paddingOuter": 0.1}, "axis": {"labelAngle": -90, "labelFontSize": 17, "labelPadding": 9}},
  "y": {"field": "y0", "type": "quantitative", "scale": {"domain": [0, 100]}, "title": "Cell content, %", "axis": {"values": [0,20,40,60,80,100], "labelOffset": -4, "labelPadding": 11, "titlePadding": 9}},
  "y2": {"field": "y1"}},
 "layer": [
  {"transform": [{"filter": {"field": "type", "oneOf": ["NK cells","CD4 T cells","CD8 T cells","B cells","Monocytes"]}}],
   "mark": {"type": "bar", "stroke": "#ffffff", "strokeWidth": 0.6, "strokeOpacity": 0.5},
   "encoding": {"color": {"field": "type", "type": "nominal", "title": " ", "scale": {"domain": ["NK cells","CD4 T cells","CD8 T cells","B cells","Monocytes"], "range": ["#61cb5b","#27a35b","#57d4bb","#578ae0","#ad5081"]}}}},
  {"transform": [{"filter": {"field": "type", "oneOf": ["Macrophages","Neutrophils","Fibroblasts","Endothelium","Other"]}}],
   "mark": {"type": "bar", "stroke": "#ffffff", "strokeWidth": 0.6, "strokeOpacity": 0.5},
   "encoding": {"fill": {"field": "type", "type": "nominal", "title": " ", "scale": {"domain": ["Macrophages","Neutrophils","Fibroblasts","Endothelium","Other"], "range": ["#d88ab1","#fbb589","#a1451c","#f67a42","#e6e6e6"]}}}}
 ]}
], "spacing": 59}
],
"config": {
 "font": "Inter",
 "view": {"stroke": null},
 "axis": {"grid": false, "ticks": false, "domain": false, "labelFont": "Inter", "labelFontSize": 18, "labelColor": "#333333", "titleFont": "Inter", "titleFontSize": 17, "titleFontWeight": "bold", "titleColor": "#222222"},
 "axisX": {"domain": true, "domainColor": "#333333", "domainWidth": 1.6},
 "title": {"font": "Liberation Sans", "fontSize": 30, "fontWeight": "bold", "color": "#000000", "anchor": "start", "frame": "bounds", "dx": -6, "baseline": "alphabetic"},
 "legend": {"labelFont": "Inter", "labelFontSize": 21, "labelColor": "#333333", "labelOffset": 13, "symbolStrokeWidth": 0, "layout": {"bottom": {"anchor": "middle", "direction": "vertical", "center": true, "margin": 9}}}
}
}
